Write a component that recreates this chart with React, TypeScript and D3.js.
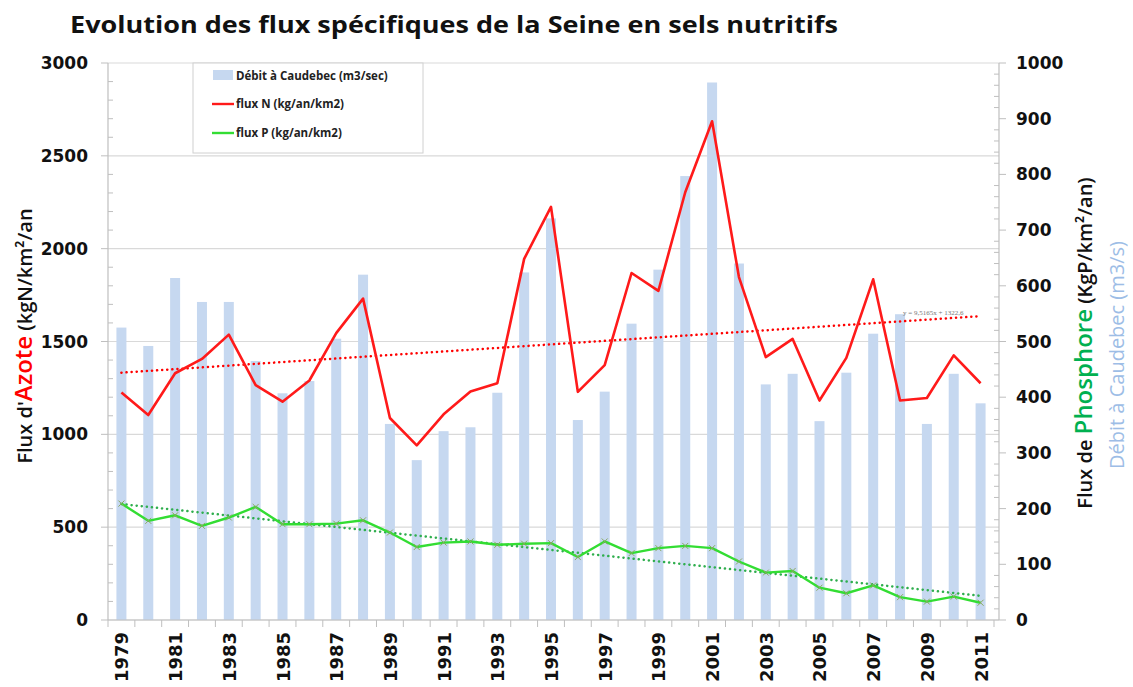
import React from "react";
import * as d3 from "d3";

const years = [1979,1980,1981,1982,1983,1984,1985,1986,1987,1988,1989,1990,1991,1992,1993,1994,1995,1996,1997,1998,1999,2000,2001,2002,2003,2004,2005,2006,2007,2008,2009,2010,2011];
const debit = [525,492,614,571,571,465,407,429,505,620,352,287,339,346,408,624,721,359,410,532,629,797,965,640,423,442,357,444,514,549,352,442,389];
const fluxN = [1225,1104,1329,1406,1537,1265,1176,1290,1545,1731,1088,941,1108,1231,1275,1945,2225,1229,1373,1869,1773,2304,2686,1847,1416,1514,1182,1412,1835,1182,1196,1425,1275];
const fluxP = [209,178,188,169,184,203,172,172,173,179,157,131,139,141,135,137,138,113,141,120,129,133,129,105,85,88,58,48,62,41,33,42,31];
const trendN = [9.5165, 1322.6];
const trendP = [-5.15, 213.3];
const leftTicks = [0,500,1000,1500,2000,2500,3000];
const rightTicks = [0,100,200,300,400,500,600,700,800,900,1000];
const title = "Evolution des flux spécifiques de la Seine en sels nutritifs";
const legendItems = ["Débit à Caudebec (m3/sec)", "flux N (kg/an/km2)", "flux P (kg/an/km2)"];

const W = 1133, H = 687;
const L = 108, R = 994, RA = 999, T = 63, B = 620;

export default function App() {
  const x = d3.scaleBand<number>().domain(years).range([L, R]).paddingInner(0).paddingOuter(0);
  const yL = d3.scaleLinear().domain([0, 3000]).range([B, T]);
  const yR = d3.scaleLinear().domain([0, 1000]).range([B, T]);
  const cx = (yr: number) => (x(yr) as number) + x.bandwidth() / 2;
  const barW = 10;
  const lineN = d3.line<number>().x((_, i) => cx(years[i])).y((d) => yL(d));
  const lineP = d3.line<number>().x((_, i) => cx(years[i])).y((d) => yR(d));
  const idx0 = 1, idx1 = years.length;
  const tN = (k: number) => trendN[0] * k + trendN[1];
  const tP = (k: number) => trendP[0] * k + trendP[1];
  const tickFont = "'DejaVu Sans', Verdana, sans-serif";
  const labFont = "'Open Sans', Lato, sans-serif";
  const minorL = d3.range(0, 3001, 100).filter((v) => v % 500 !== 0);
  const minorR = d3.range(0, 1001, 20).filter((v) => v % 100 !== 0);
  const boundaries = years.map((yr) => x(yr) as number).concat([R]);
  return (
    <svg width={W} height={H} style={{ position: "absolute", left: 0, top: 0, background: "#fff" }}>
      <rect x={0} y={0} width={W} height={H} fill="#fff" />
      <text x={70} y={33} fontFamily={labFont} fontWeight="bold" fontSize={23} fill="#111" textLength={768} lengthAdjust="spacingAndGlyphs">{title}</text>
      {leftTicks.map((v) => (
        <line key={"g" + v} x1={L} x2={RA} y1={yL(v)} y2={yL(v)} stroke="#d9d9d9" strokeWidth={1.2} />
      ))}
      {debit.map((d, i) => (
        <rect key={"b" + i} x={cx(years[i]) - barW / 2} y={yR(d)} width={barW} height={B - yR(d)} fill="#c6d8f0" />
      ))}
      <line x1={L} x2={L} y1={T} y2={B} stroke="#bfbfbf" strokeWidth={1.2} />
      <line x1={RA} x2={RA} y1={T} y2={B} stroke="#bfbfbf" strokeWidth={1.2} />
      <line x1={L} x2={RA} y1={B} y2={B} stroke="#bfbfbf" strokeWidth={1.2} />
      {leftTicks.map((v) => (
        <line key={"lt" + v} x1={L - 7} x2={L} y1={yL(v)} y2={yL(v)} stroke="#bfbfbf" />
      ))}
      {minorL.map((v) => (
        <line key={"lm" + v} x1={L} x2={L + 5} y1={yL(v)} y2={yL(v)} stroke="#bfbfbf" />
      ))}
      {rightTicks.map((v) => (
        <line key={"rt" + v} x1={RA} x2={RA + 7} y1={yR(v)} y2={yR(v)} stroke="#bfbfbf" />
      ))}
      {minorR.map((v) => (
        <line key={"rm" + v} x1={RA - 5} x2={RA} y1={yR(v)} y2={yR(v)} stroke="#bfbfbf" />
      ))}
      {boundaries.map((bx, i) => (
        <line key={"xt" + i} x1={bx} x2={bx} y1={B} y2={B + 7} stroke="#bfbfbf" />
      ))}
      {leftTicks.map((v) => (
        <text key={"ll" + v} x={88} y={yL(v) + 6} textAnchor="end" fontFamily={tickFont} fontWeight="bold" fontSize={17} fill="#111">{v}</text>
      ))}
      {rightTicks.map((v) => (
        <text key={"rl" + v} x={1016} y={yR(v) + 6} textAnchor="start" fontFamily={tickFont} fontWeight="bold" fontSize={17} fill="#111">{v}</text>
      ))}
      {years.filter((yr) => (yr - 1979) % 2 === 0).map((yr) => (
        <text key={"xl" + yr} transform={`translate(${cx(yr) + 7},${632}) rotate(-90)`} textAnchor="end" fontFamily={tickFont} fontWeight="bold" fontSize={18} fill="#111">{yr}</text>
      ))}
      <line x1={cx(years[0])} x2={cx(years[years.length - 1])} y1={yL(tN(idx0))} y2={yL(tN(idx1))} stroke="#ff0000" strokeWidth={2.5} strokeDasharray="0.1 5" strokeLinecap="round" />
      <line x1={cx(years[0])} x2={cx(years[years.length - 1])} y1={yR(tP(idx0))} y2={yR(tP(idx1))} stroke="#2fae4e" strokeWidth={2.5} strokeDasharray="0.1 5" strokeLinecap="round" />
      <text x={903} y={yL(tN(idx1)) - 1} fontFamily="'Liberation Serif', serif" fontSize={7} fill="#777">y = 9,5165x + 1322,6</text>
      <path d={lineN(fluxN) || ""} fill="none" stroke="#ff1a1a" strokeWidth={2.6} strokeLinejoin="round" />
      <path d={lineP(fluxP) || ""} fill="none" stroke="#33dd33" strokeWidth={2.4} strokeLinejoin="round" />
      {fluxP.map((v, i) => {
        const px = cx(years[i]), py = yR(v);
        return (
          <path key={"m" + i} d={`M${px - 3},${py - 3}L${px + 3},${py + 3}M${px - 3},${py + 3}L${px + 3},${py - 3}`} stroke="#8aa860" strokeWidth={1} />
        );
      })}
      <rect x={193} y={63} width={230} height={90} fill="#fff" stroke="#d0d0d0" />
      <rect x={213} y={70} width={20} height={10} fill="#c6d8f0" />
      <text x={236} y={80} fontFamily={labFont} fontWeight="bold" fontSize={11.5} fill="#222">{legendItems[0]}</text>
      <line x1={212} x2={234} y1={104} y2={104} stroke="#ff1a1a" strokeWidth={2.4} />
      <text x={236} y={108} fontFamily={labFont} fontWeight="bold" fontSize={11.5} fill="#222">{legendItems[1]}</text>
      <line x1={212} x2={234} y1={133} y2={133} stroke="#33dd33" strokeWidth={2.4} />
      <text x={236} y={137} fontFamily={labFont} fontWeight="bold" fontSize={11.5} fill="#222">{legendItems[2]}</text>
      <text transform="translate(32,336) rotate(-90)" textAnchor="middle" fontFamily={labFont} fontWeight={600} fontSize={20} fill="#111">
        Flux d'<tspan fill="#ff0000" fontSize={24}>Azote</tspan> (kgN/km²/an
      </text>
      <text transform="translate(1092,343) rotate(-90)" textAnchor="middle" fontFamily={labFont} fontWeight={600} fontSize={20} fill="#111">
        Flux de <tspan fill="#00b050" fontSize={24}>Phosphore</tspan> (KgP/km²/an)
      </text>
      <text transform="translate(1124,355) rotate(-90)" textAnchor="middle" fontFamily={labFont} fontSize={20} fill="#9dbde6">
        Débit à Caudebec (m3/s)
      </text>
    </svg>
  );
}
